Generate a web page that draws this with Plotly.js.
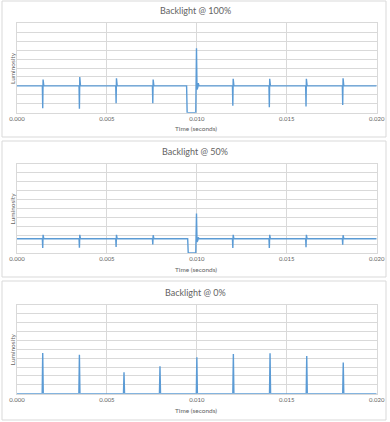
<!DOCTYPE html>
<html>
<head>
<meta charset="utf-8">
<script src="https://cdn.plot.ly/plotly-3.0.1.min.js"></script>
<style>
html,body{margin:0;padding:0;background:#fff;}
#chart{width:390px;height:422px;}
</style>
</head>
<body>
<div id="chart"></div>
<script>
// ---- data ----
var panelTitles = ["Backlight @ 100%", "Backlight @ 50%", "Backlight @ 0%"];
var xTitle = "Time (seconds)";
var yTitle = "Luminosity";
var xTickVals = [0, 0.005, 0.010, 0.015, 0.020];
var xTickText = ["0.000", "0.005", "0.010", "0.015", "0.020"];

var time100 = [0, 0.00141, 0.00143, 0.00145, 0.00149, 0.00345, 0.00347, 0.00349, 0.00353,
  0.00549, 0.00551, 0.00553, 0.00557, 0.00753, 0.00755, 0.00757, 0.00761,
  0.00943, 0.00946, 0.00994, 0.00998, 0.01001, 0.01003, 0.01005, 0.01008, 0.01012,
  0.01198, 0.01200, 0.01202, 0.01206, 0.01401, 0.01403, 0.01405, 0.01409,
  0.01605, 0.01607, 0.01609, 0.01613, 0.01809, 0.01811, 0.01813, 0.01817, 0.02];
var lum100 = [3.0, 3.0, 0.5, 3.7, 3.0, 3.0, 0.45, 4.0, 3.0,
  3.0, 1.05, 3.85, 3.0, 3.0, 1.05, 3.7, 3.0,
  3.0, 0.0, 0.0, 7.2, 2.6, 3.9, 2.8, 3.3, 3.0,
  3.0, 0.78, 3.8, 3.0, 3.0, 0.6, 3.8, 3.0,
  3.0, 0.7, 3.8, 3.0, 3.0, 0.87, 3.85, 3.0, 3.0];

var time50 = [0, 0.00141, 0.00143, 0.00145, 0.00149, 0.00345, 0.00347, 0.00349, 0.00353,
  0.00549, 0.00551, 0.00553, 0.00557, 0.00753, 0.00755, 0.00757, 0.00761,
  0.00949, 0.00952, 0.00994, 0.00998, 0.01001, 0.01003, 0.01005, 0.01008, 0.01012,
  0.01198, 0.01200, 0.01202, 0.01206, 0.01401, 0.01403, 0.01405, 0.01409,
  0.01605, 0.01607, 0.01609, 0.01613, 0.01809, 0.01811, 0.01813, 0.01817, 0.02];
var lum50 = [1.6, 1.6, 0.56, 2.05, 1.6, 1.6, 0.6, 2.05, 1.6,
  1.6, 0.67, 2.05, 1.6, 1.6, 0.97, 2.0, 1.6,
  1.6, 0.0, 0.0, 4.45, 1.25, 1.95, 1.4, 1.75, 1.6,
  1.6, 0.56, 2.05, 1.6, 1.6, 0.56, 2.05, 1.6,
  1.6, 0.65, 2.05, 1.6, 1.6, 0.93, 2.0, 1.6, 1.6];

var time0 = [0, 0.0014, 0.00143, 0.00146, 0.00344, 0.00347, 0.0035, 0.00592, 0.00595, 0.00598,
  0.00792, 0.00795, 0.00798, 0.00997, 0.01, 0.01003, 0.012, 0.01203, 0.01206,
  0.01404, 0.01407, 0.0141, 0.01608, 0.01611, 0.01614, 0.01811, 0.01814, 0.01817, 0.02];
var lum0 = [0, 0, 4.57, 0, 0, 4.38, 0, 0, 2.4, 0,
  0, 3.07, 0, 0, 4.1, 0, 0, 4.46, 0,
  0, 4.53, 0, 0, 4.24, 0, 0, 3.5, 0, 0];

// ---- layout helpers ----
var W = 390, H = 422;
function px(x){ return x / W; }
function py(y){ return 1 - y / H; }

var FONT = "Lato, 'Open Sans', sans-serif";
var TXT = "#636363";
var GRID = "#d9d9d9";
var LINE = "#5b9bd5";

// plot areas in pixels: [top, bottom]
var plotBoxes = [[23.3, 112.7], [164, 253], [304.7, 393.7]];
var panelBoxes = [[1, 137], [141, 277], [281, 420]];
var titleY = [11, 151, 292];
var xTitleY = [128, 269.5, 410];
var plotLeft = 17, plotRight = 376.7;

var series = [[time100, lum100], [time50, lum50], [time0, lum0]];
var data = [];
var layout = {
  width: W, height: H,
  margin: {l: 0, r: 0, t: 0, b: 0},
  paper_bgcolor: "#fff", plot_bgcolor: "#fff",
  showlegend: false,
  font: {family: FONT, color: TXT},
  shapes: [], annotations: []
};

for (var i = 0; i < 3; i++) {
  var s = i === 0 ? "" : String(i + 1);
  data.push({
    type: "scatter", mode: "lines",
    x: series[i][0], y: series[i][1],
    xaxis: "x" + s, yaxis: "y" + s,
    line: {color: LINE, width: 1.4},
    hoverinfo: "skip"
  });
  layout["xaxis" + s] = {
    domain: [px(plotLeft), px(plotRight)],
    anchor: "y" + s,
    range: [0, 0.02],
    tickvals: xTickVals, ticktext: xTickText,
    showgrid: true, gridcolor: GRID, gridwidth: 1,
    showline: true, linecolor: GRID, linewidth: 1, mirror: true,
    zeroline: false, ticks: "",
    tickfont: {size: 6, color: TXT, family: FONT},
    fixedrange: true
  };
  layout["yaxis" + s] = {
    domain: [py(plotBoxes[i][1]), py(plotBoxes[i][0])],
    anchor: "x" + s,
    range: [0, 10], dtick: 1,
    showgrid: true, gridcolor: GRID, gridwidth: 1,
    showline: true, linecolor: GRID, linewidth: 1, mirror: true,
    zeroline: false, ticks: "", showticklabels: false,
    fixedrange: true
  };
  layout.shapes.push({
    type: "rect", xref: "paper", yref: "paper",
    x0: px(2), x1: px(386), y0: py(panelBoxes[i][1]), y1: py(panelBoxes[i][0]),
    line: {color: GRID, width: 1}, fillcolor: "rgba(0,0,0,0)", layer: "below"
  });
  layout.annotations.push({
    text: panelTitles[i], xref: "paper", yref: "paper",
    x: px(195), y: py(titleY[i]), xanchor: "center", yanchor: "middle",
    showarrow: false, font: {size: 9, color: TXT, family: FONT}
  });
  layout.annotations.push({
    text: xTitle, xref: "paper", yref: "paper",
    x: px(196), y: py(xTitleY[i]), xanchor: "center", yanchor: "middle",
    showarrow: false, font: {size: 6.5, color: TXT, family: FONT}
  });
  layout.annotations.push({
    text: yTitle, xref: "paper", yref: "paper", textangle: -90,
    x: px(12), y: py((plotBoxes[i][0] + plotBoxes[i][1]) / 2),
    xanchor: "center", yanchor: "middle",
    showarrow: false, font: {size: 6.5, color: TXT, family: FONT}
  });
}

Plotly.newPlot("chart", data, layout, {displayModeBar: false, staticPlot: true});
</script>
</body>
</html>
